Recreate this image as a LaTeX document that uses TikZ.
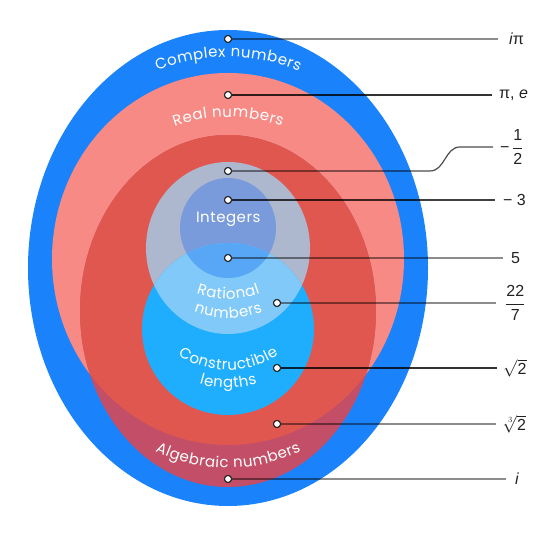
\documentclass[tikz,border=0pt]{standalone}
\usepackage{fontspec}
\setmainfont{Liberation Sans}
\newfontfamily\regfont{Poppins}
\usetikzlibrary{decorations.text}
\definecolor{cplx}{HTML}{1A82FB}
\definecolor{realc}{HTML}{F78A84}
\definecolor{algin}{HTML}{E0574F}
\definecolor{algout}{HTML}{C24F67}
\definecolor{ratc}{HTML}{ADB8CF}
\definecolor{intc}{HTML}{7A9BDB}
\definecolor{consc}{HTML}{1FADFD}
\definecolor{ratcons}{HTML}{80C9F9}
\definecolor{intcons}{HTML}{58A6F6}
\definecolor{inkc}{HTML}{222222}
\newcommand{\rf}{\regfont\fontsize{15}{17}\selectfont\kern0.5pt}
\newcommand{\lf}{\fontsize{16}{18}\selectfont}
\begin{document}
\begin{tikzpicture}[x=1pt,y=1pt,
  dot/.style={circle,draw=inkc,fill=white,line width=1pt,inner sep=0pt,minimum size=7pt},
  lead/.style={draw=black,line width=1.2pt,draw opacity=#1},
  lead/.default=0.45,
  numlab/.style={anchor=west,inner sep=0pt,font=\lf,text=inkc},
  arclab/.style={decorate,decoration={text along path,text align=center,text color=white,text={#1}}}]
\useasboundingbox (0,0) rectangle (560,535);
\fill[white] (0,0) rectangle (560,535);
% sets
\fill[cplx] (228,267) ellipse[x radius=200,y radius=238];
\fill[realc] (228,276) ellipse[x radius=176,y radius=186];
\fill[algout] (228,224) ellipse[x radius=148,y radius=176];
\begin{scope}
  \clip (228,276) ellipse[x radius=176,y radius=186];
  \fill[algin] (228,224) ellipse[x radius=148,y radius=176];
\end{scope}
\fill[ratc] (228,287) ellipse[x radius=82,y radius=86];
\fill[intc] (228,307) ellipse[x radius=48,y radius=50];
\fill[consc] (228,206) circle[radius=86];
\begin{scope}
  \clip (228,206) circle[radius=86];
  \fill[ratcons] (228,287) ellipse[x radius=82,y radius=86];
  \fill[intcons] (228,307) ellipse[x radius=48,y radius=50];
\end{scope}
% set labels
\path[arclab={|\rf|Complex numbers}] (228,291) ++(130:187) arc[start angle=130,end angle=50,radius=187];
\path[arclab={|\rf|Real numbers}] (228,258) ++(130:160) arc[start angle=130,end angle=50,radius=160];
\coordinate (il) at (176,312);
\coordinate (ir) at (280,312);
\path[arclab={|\rf|Integers}] (il) -- (ir);
\path[arclab={|\rf|Rational}] (228,330) ++(235:94) arc[start angle=235,end angle=305,radius=94];
\path[arclab={|\rf|numbers}] (228,311) ++(235:94) arc[start angle=235,end angle=305,radius=94];
\path[arclab={|\rf|Constructible}] (228,256) ++(212:91) arc[start angle=212,end angle=328,radius=91];
\path[arclab={|\rf|lengths}] (228,247) ++(235:100) arc[start angle=235,end angle=305,radius=100];
\path[arclab={|\rf|Algebraic numbers}] (228,232) ++(218:165) arc[start angle=218,end angle=322,radius=165];
% leader end points
\coordinate (e1) at (498,496);
\coordinate (e2) at (492,440);
\coordinate (b1) at (430,364);
\coordinate (b2) at (460,388);
\coordinate (e3) at (493,388);
\coordinate (e4) at (495,335);
\coordinate (e5) at (503,277);
\coordinate (e6) at (496,232);
\coordinate (e7) at (497,167);
\coordinate (e8) at (496,111);
\coordinate (e9) at (506,56);
% dots
\node[dot] (d1) at (228,496) {};
\node[dot] (d2) at (228,440) {};
\node[dot] (d3) at (228,364) {};
\node[dot] (d4) at (228,335) {};
\node[dot] (d5) at (228,277) {};
\node[dot] (d6) at (277,232) {};
\node[dot] (d7) at (277,167) {};
\node[dot] (d8) at (277,111) {};
\node[dot] (d9) at (228,56) {};
% leaders
\draw[lead] (d1) -- (e1);
\draw[lead=0.8] (d2) -- (e2);
\draw[lead=0.7] (d3) -- (b1) .. controls (445,364) and (445,388) .. (b2) -- (e3);
\draw[lead=0.75] (d4) -- (e4);
\draw[lead] (d5) -- (e5);
\draw[lead] (d6) -- (e6);
\draw[lead=0.8] (d7) -- (e7);
\draw[lead] (d8) -- (e8);
\draw[lead] (d9) -- (e9);
% redraw dots on top
\foreach \d in {d1,d2,d3,d4,d5,d6,d7,d8,d9}{\node[dot] at (\d) {};}
% number labels
\node[numlab] (l1) at (509,496) {{\itshape i}π};
\node[numlab] (l2) at (499,440) {π, {\itshape e}};
\node[numlab] (l3) at (500,388) {−\,$\displaystyle\frac{\mbox{\lf 1}}{\mbox{\lf 2}}$};
\node[numlab] (l4) at (503,335) {−\;3};
\node[numlab] (l5) at (511,277) {5};
\node[numlab] (l6) at (505,232) {$\displaystyle\frac{\mbox{\lf 22}}{\mbox{\lf 7}}$};
\node[numlab] (l7) at (503,167) {$\sqrt{\mbox{\lf 2}}$};
\node[numlab] (l8) at (503,111) {$\sqrt[3]{\mbox{\lf 2}}$};
\node[numlab] (l9) at (515,56) {\itshape i};
\end{tikzpicture}
\end{document}
